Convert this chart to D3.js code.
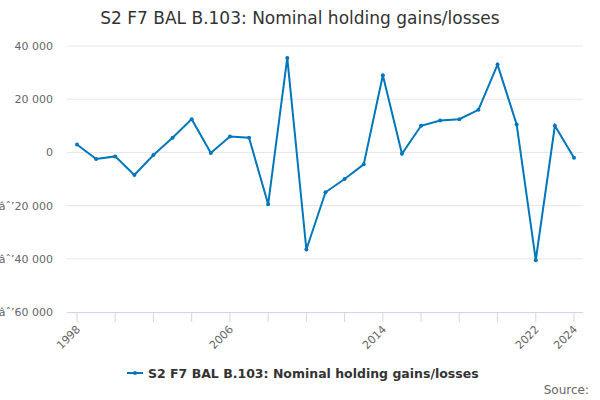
<html>
<head>
<script src="https://d3js.org/d3.v7.min.js"></script>
<style>
body { margin: 0; }
svg { background: #fff; font-family: "DejaVu Sans", sans-serif; }
</style>
</head>
<body>
<div id="chart"></div>
<script>
var years = d3.range(1998, 2025);
var values = [3000, -2500, -1500, -8500, -1000, 5500, 12500, -200, 6000, 5500,
  -19500, 35500, -36500, -15000, -10000, -4500, 29000, -500, 10000, 12000,
  12500, 16000, 33000, 10500, -40500, 10000, -2000];
var yTicks = [40000, 20000, 0, -20000, -40000, -60000];
var xLabels = [1998, 2006, 2014, 2022, 2024];
var seriesName = "S2 F7 BAL B.103: Nominal holding gains/losses";

var width = 600, height = 400;
var svg = d3.select("#chart").append("svg").attr("width", width).attr("height", height);

var x = d3.scaleLinear().domain([1998, 2024]).range([77, 574]);
var y = d3.scaleLinear().domain([-60000, 40000]).range([312, 46]);
var fmt = function(v) { return d3.format(",")(v).replace(/,/g, " ").replace("-", "-"); };

svg.append("text").attr("x", 300).attr("y", 24).attr("text-anchor", "middle")
  .attr("font-size", 17).attr("fill", "#333").text("S2 F7 BAL B.103: Nominal holding gains/losses");

// gridlines
svg.selectAll(".grid").data(yTicks.filter(function(d){ return d > -60000; })).enter().append("line")
  .attr("x1", 67).attr("x2", 583)
  .attr("y1", function(d){ return y(d); }).attr("y2", function(d){ return y(d); })
  .attr("stroke", "#e6e6e6");

svg.selectAll(".ylab").data(yTicks).enter().append("text")
  .attr("x", 53).attr("y", function(d){ return y(d) + 4; })
  .attr("text-anchor", "end").attr("font-size", 11).attr("fill", "#666")
  .text(fmt);

// x axis
svg.append("line").attr("x1", 67).attr("x2", 583).attr("y1", 312.5).attr("y2", 312.5)
  .attr("stroke", "#ccd6eb");
svg.selectAll(".xt").data(d3.range(1998, 2025, 2)).enter().append("line")
  .attr("x1", function(d){ return x(d); }).attr("x2", function(d){ return x(d); })
  .attr("y1", 312).attr("y2", 322).attr("stroke", "#ccd6eb");
svg.selectAll(".xl").data(xLabels).enter().append("text")
  .attr("transform", function(d){ return "translate(" + (x(d) + 4) + ",330) rotate(-45)"; })
  .attr("text-anchor", "end").attr("font-size", 11).attr("fill", "#666")
  .text(function(d){ return d; });

var line = d3.line().x(function(d, i){ return x(years[i]); }).y(function(d){ return y(d); });
svg.append("path").datum(values).attr("d", line)
  .attr("fill", "none").attr("stroke", "#0077bb").attr("stroke-width", 2);
svg.selectAll(".pt").data(values).enter().append("circle")
  .attr("cx", function(d, i){ return x(years[i]); }).attr("cy", function(d){ return y(d); })
  .attr("r", 2).attr("fill", "#0077bb");

// legend
svg.append("line").attr("x1", 127).attr("x2", 143).attr("y1", 373).attr("y2", 373)
  .attr("stroke", "#0077bb").attr("stroke-width", 2);
svg.append("circle").attr("cx", 135).attr("cy", 373).attr("r", 2).attr("fill", "#0077bb");
svg.append("text").attr("x", 148).attr("y", 378).attr("font-size", 12.5)
  .attr("font-weight", "bold").attr("fill", "#333").text(seriesName);

svg.append("text").attr("x", 589).attr("y", 394).attr("text-anchor", "end")
  .attr("font-size", 12).attr("fill", "#666").text("Source:");
</script>
</body>
</html>
